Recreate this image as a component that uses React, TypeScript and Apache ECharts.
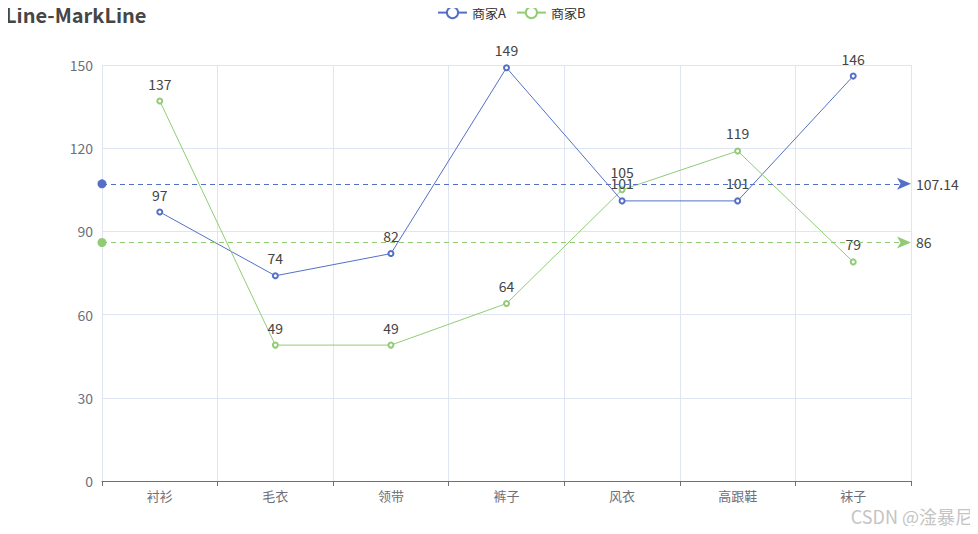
import { useEffect, useRef } from 'react'
import * as echarts from 'echarts'

const categories = ['衬衫', '毛衣', '领带', '裤子', '风衣', '高跟鞋', '袜子']
const sellerA = [97, 74, 82, 149, 101, 101, 146]
const sellerB = [137, 49, 49, 64, 105, 119, 79]
const seriesNames = ['商家A', '商家B']
const colors = ['#5470c6', '#91cc75']

const FONT = '"Noto Sans CJK SC", "Noto Sans", sans-serif'

export default function App() {
    const chartRef = useRef<HTMLDivElement>(null)

    useEffect(() => {
        if (!chartRef.current) return
        const chart = echarts.init(chartRef.current, null, { renderer: 'svg' })

        chart.setOption({
            animation: false,
            color: colors,
            textStyle: { fontFamily: FONT },
            title: {
                text: 'Line-MarkLine',
                left: 0,
                top: 2,
                padding: [0, 5, 5, 5],
                textStyle: { fontSize: 20, fontWeight: 'bold', color: '#464646', fontFamily: FONT, lineHeight: 24 }
            },
            legend: {
                top: 1,
                left: 432,
                itemGap: 10,
                itemWidth: 29,
                textStyle: { color: '#333', fontSize: 13 },
                data: seriesNames
            },
            grid: { left: 102, right: 67, top: 65, bottom: 53 },
            xAxis: {
                type: 'category',
                data: categories,
                boundaryGap: true,
                axisLine: { show: true, lineStyle: { color: '#6e7079' } },
                axisTick: { show: true, lineStyle: { color: '#6e7079' } },
                axisLabel: { color: '#6e7079', fontSize: 13, margin: 8 },
                splitLine: { show: true, lineStyle: { color: '#e0e6f1' } }
            },
            yAxis: {
                type: 'value',
                min: 0,
                max: 150,
                interval: 30,
                axisLine: { show: false },
                axisTick: { show: false },
                axisLabel: { color: '#6e7079', fontSize: 14, margin: 9 },
                splitLine: { show: true, lineStyle: { color: '#e0e6f1' } }
            },
            series: [sellerA, sellerB].map((data, i) => ({
                name: seriesNames[i],
                type: 'line',
                data,
                symbol: 'emptyCircle',
                symbolSize: 5,
                lineStyle: { width: 1 },
                label: { show: true, position: 'top', distance: 7, color: '#444', fontSize: 14 },
                markLine: {
                    symbol: ['circle', 'arrow'],
                    symbolSize: [9, 14],
                    precision: 2,
                    label: { color: '#444', fontSize: 14 },
                    lineStyle: { type: [5, 4], width: 1.2 },
                    data: [{ type: 'average', name: '平均值' }]
                }
            }))
        })

        return () => chart.dispose()
    }, [])

    return (
        <div style={{ position: 'relative', width: 962, height: 518 }}>
            <div ref={chartRef} style={{ width: 978, height: 534, position: 'absolute', left: -8, top: -8 }} />
            <div
                style={{
                    position: 'absolute',
                    right: -8,
                    bottom: -2,
                    width: 170,
                    textAlign: 'right',
                    paddingRight: 5,
                    lineHeight: '24px',
                    color: '#c4c4c4',
                    fontSize: 18,
                    fontFamily: FONT,
                    pointerEvents: 'none'
                }}
            >
                CSDN @淦暴尼
            </div>
        </div>
    )
}
